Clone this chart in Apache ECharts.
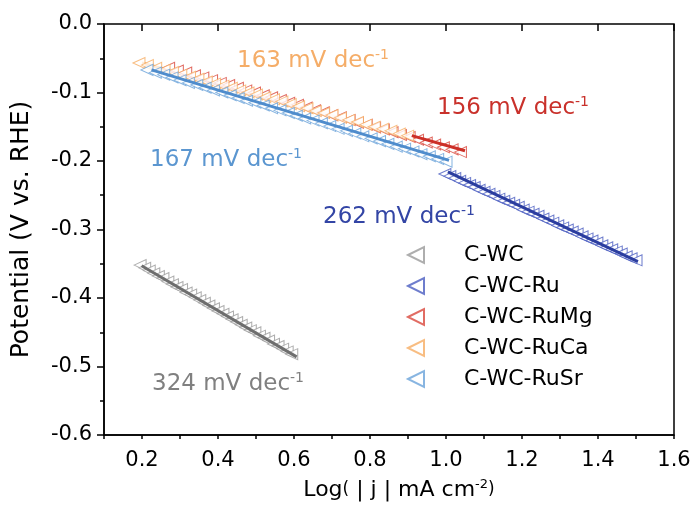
<!DOCTYPE html>
<html>
<head>
<meta charset="utf-8">
<script src="https://cdn.jsdelivr.net/npm/echarts@6/dist/echarts.min.js"></script>
<style>
  html, body { margin: 0; padding: 0; background: #fff; }
  #chart { width: 698px; height: 506px; }
</style>
</head>
<body>
<div id="chart"></div>
<script>
// Tafel data: [log|j|, potential]
const cwc = [
  [0.195, -0.352], [0.207, -0.356], [0.219, -0.360], [0.231, -0.364], [0.243, -0.368],
  [0.255, -0.371], [0.268, -0.376], [0.280, -0.380], [0.292, -0.384], [0.304, -0.387],
  [0.316, -0.392], [0.328, -0.395], [0.340, -0.399], [0.352, -0.403], [0.364, -0.407],
  [0.376, -0.411], [0.388, -0.415], [0.400, -0.419], [0.413, -0.423], [0.425, -0.427],
  [0.437, -0.431], [0.449, -0.435], [0.461, -0.439], [0.473, -0.443], [0.485, -0.447],
  [0.497, -0.450], [0.509, -0.455], [0.521, -0.458], [0.533, -0.462], [0.546, -0.467],
  [0.558, -0.470], [0.570, -0.474], [0.582, -0.478], [0.594, -0.482]
]
const cwcRu = [
  [0.997, -0.219], [1.010, -0.222], [1.023, -0.225], [1.036, -0.229], [1.049, -0.232],
  [1.062, -0.235], [1.074, -0.238], [1.087, -0.242], [1.100, -0.245], [1.113, -0.248],
  [1.126, -0.251], [1.139, -0.255], [1.152, -0.258], [1.165, -0.261], [1.178, -0.264],
  [1.190, -0.267], [1.203, -0.271], [1.216, -0.274], [1.229, -0.277], [1.242, -0.280],
  [1.255, -0.284], [1.268, -0.287], [1.281, -0.290], [1.294, -0.294], [1.307, -0.297],
  [1.319, -0.300], [1.332, -0.303], [1.345, -0.306], [1.358, -0.310], [1.371, -0.313],
  [1.384, -0.316], [1.397, -0.319], [1.410, -0.323], [1.423, -0.326], [1.436, -0.329],
  [1.448, -0.332], [1.461, -0.335], [1.474, -0.339], [1.487, -0.342], [1.500, -0.345]
]
const cwcRuMg = [
  [0.270, -0.064], [0.293, -0.068], [0.315, -0.071], [0.338, -0.075], [0.360, -0.078],
  [0.383, -0.082], [0.406, -0.086], [0.428, -0.089], [0.451, -0.093], [0.473, -0.097],
  [0.496, -0.100], [0.519, -0.104], [0.541, -0.107], [0.564, -0.111], [0.586, -0.115],
  [0.609, -0.118], [0.632, -0.122], [0.654, -0.126], [0.677, -0.129], [0.699, -0.133],
  [0.722, -0.136], [0.745, -0.140], [0.767, -0.144], [0.790, -0.147], [0.812, -0.151],
  [0.835, -0.154], [0.858, -0.158], [0.880, -0.162], [0.903, -0.165], [0.925, -0.169],
  [0.948, -0.173], [0.970, -0.176], [0.993, -0.180], [1.016, -0.183], [1.038, -0.187]
]
const cwcRuCa = [
  [0.192, -0.057], [0.214, -0.060], [0.236, -0.064], [0.258, -0.067], [0.280, -0.070],
  [0.302, -0.074], [0.325, -0.077], [0.347, -0.080], [0.369, -0.084], [0.391, -0.087],
  [0.413, -0.090], [0.435, -0.093], [0.457, -0.097], [0.479, -0.100], [0.501, -0.103],
  [0.523, -0.107], [0.546, -0.110], [0.568, -0.113], [0.590, -0.117], [0.612, -0.120],
  [0.634, -0.123], [0.656, -0.127], [0.678, -0.130], [0.700, -0.133], [0.722, -0.137],
  [0.744, -0.140], [0.767, -0.143], [0.789, -0.147], [0.811, -0.150], [0.833, -0.153],
  [0.855, -0.156], [0.877, -0.160], [0.899, -0.163]
]
const cwcRuSr = [
  [0.213, -0.067], [0.235, -0.071], [0.257, -0.074], [0.279, -0.078], [0.300, -0.082],
  [0.322, -0.086], [0.344, -0.089], [0.366, -0.093], [0.388, -0.097], [0.410, -0.100],
  [0.432, -0.104], [0.453, -0.108], [0.475, -0.112], [0.497, -0.115], [0.519, -0.119],
  [0.541, -0.123], [0.563, -0.126], [0.585, -0.130], [0.606, -0.134], [0.628, -0.138],
  [0.650, -0.141], [0.672, -0.145], [0.694, -0.149], [0.716, -0.153], [0.738, -0.156],
  [0.760, -0.160], [0.781, -0.164], [0.803, -0.167], [0.825, -0.171], [0.847, -0.175],
  [0.869, -0.179], [0.891, -0.182], [0.913, -0.186], [0.934, -0.190], [0.956, -0.193],
  [0.978, -0.197], [1.000, -0.201]
]

// linear fit segments (end points)
const fitCwc = [[0.199, -0.353], [0.607, -0.486]]
const fitRu = [[1.005, -0.216], [1.505, -0.347]]
const fitMg = [[0.910, -0.163], [1.050, -0.185]]
const fitCa = [[0.200, -0.057], [0.910, -0.166]]
const fitSr = [[0.225, -0.067], [1.008, -0.199]]

const names = ['C-WC', 'C-WC-Ru', 'C-WC-RuMg', 'C-WC-RuCa', 'C-WC-RuSr']
const slopes = ['324', '262', '156', '163', '167']
const xLabels = [0.2, 0.4, 0.6, 0.8, 1.0, 1.2, 1.4, 1.6]

const FONT = 'DejaVu Sans'
const tri = 'path://M0,5 L10,0 L10,10 Z'
const markColors = ['#9a9a9a', '#4a5cc0', '#d9473c', '#f6ad63', '#6aa3da']
const lineColors = ['#6e6e6e', '#2b3d9f', '#cc2f27', '#f39c45', '#4f8ccc']
const textColors = ['#808080', '#3345a5', '#c9312b', '#f5ad68', '#5b96d0']

const chart = echarts.init(document.getElementById('chart'))

// white-filled triangles, so each one hides part of the one before
function markers(name, data, i) {
  return {
    name: name,
    type: 'scatter',
    data: data,
    symbol: tri,
    symbolSize: [12, 11],
    itemStyle: {
      color: '#fff',
      borderColor: markColors[i],
      borderWidth: 1
    },
    z: 2
  }
}

function fit(data, i, z) {
  return {
    name: 'fit' + i,
    type: 'line',
    data: data,
    symbol: 'none',
    lineStyle: { color: lineColors[i], width: 3 },
    z: z
  }
}

function note(i, left, top) {
  return {
    type: 'text',
    left: left,
    top: top,
    style: {
      text: '{m|' + slopes[i] + ' mV dec}{s|-1}',
      rich: {
        m: { fontSize: 23, fontFamily: FONT, fill: textColors[i], lineHeight: 26 },
        s: { fontSize: 14, fontFamily: FONT, fill: textColors[i], lineHeight: 14, verticalAlign: 'top' }
      }
    }
  }
}

chart.setOption({
  animation: false,
  backgroundColor: '#fff',
  grid: {
    left: 104,
    right: 24,
    top: 24,
    bottom: 71,
    show: true,
    borderColor: '#000',
    borderWidth: 1.5
  },
  legend: {
    data: names,
    orient: 'vertical',
    left: 407,
    top: 244,
    padding: 0,
    itemWidth: 16,
    itemHeight: 18,
    itemGap: 9,
    selectedMode: false,
    textStyle: { fontSize: 22, fontFamily: FONT, color: '#000', padding: [0, 0, 0, 35] }
  },
  xAxis: [{
    type: 'value',
    min: 0.1,
    max: 1.6,
    interval: 0.1,
    name: '{a|Log}{p|(}{a| | j | mA cm}{s|-2}{p|)}',
    nameLocation: 'middle',
    nameGap: 43,
    nameTextStyle: {
      padding: [0, 0, 0, 20],
      rich: {
        a: { fontSize: 22, fontFamily: FONT, color: '#000', lineHeight: 24 },
        p: { fontSize: 17, fontFamily: FONT, color: '#000', lineHeight: 24 },
        s: { fontSize: 13, fontFamily: FONT, color: '#000', lineHeight: 13, verticalAlign: 'top' }
      }
    },
    axisLine: { onZero: false, lineStyle: { color: '#000', width: 1.5 } },
    axisTick: { length: 4, lineStyle: { color: '#000', width: 1.5 } },
    axisLabel: {
      customValues: xLabels,
      margin: 15,
      fontSize: 21,
      fontFamily: FONT,
      color: '#000',
      formatter: v => v.toFixed(1)
    },
    splitLine: { show: false }
  }, {
    type: 'value',
    position: 'bottom',
    min: 0.1,
    max: 1.6,
    axisLine: { show: false },
    axisTick: { customValues: xLabels, length: 7, lineStyle: { color: '#000', width: 1.5 } },
    axisLabel: { show: false },
    splitLine: { show: false }
  }],
  yAxis: {
    type: 'value',
    min: -0.6,
    max: 0,
    interval: 0.1,
    name: 'Potential (V vs. RHE)',
    nameLocation: 'middle',
    nameGap: 70,
    nameTextStyle: { fontSize: 25, fontFamily: FONT, color: '#000' },
    axisLine: { onZero: false, lineStyle: { color: '#000', width: 1.5 } },
    axisTick: { length: 7, lineStyle: { color: '#000', width: 1.5 } },
    minorTick: { show: true, splitNumber: 2, length: 4, lineStyle: { color: '#000', width: 1.5 } },
    axisLabel: {
      margin: 12,
      fontSize: 21,
      fontFamily: FONT,
      color: '#000',
      formatter: v => v.toFixed(1)
    },
    splitLine: { show: false }
  },
  graphic: [
    note(3, 237, 48),
    note(2, 437, 95),
    note(4, 150, 147),
    note(1, 323, 204),
    note(0, 152, 371)
  ],
  series: [
    fit(fitCa, 3, 1),
    markers(names[0], cwc, 0),
    markers(names[1], cwcRu, 1),
    markers(names[2], cwcRuMg, 2),
    markers(names[3], cwcRuCa, 3),
    markers(names[4], cwcRuSr, 4),
    fit(fitCwc, 0, 3),
    fit(fitRu, 1, 3),
    fit(fitMg, 2, 3),
    fit(fitSr, 4, 3)
  ]
})
</script>
</body>
</html>
